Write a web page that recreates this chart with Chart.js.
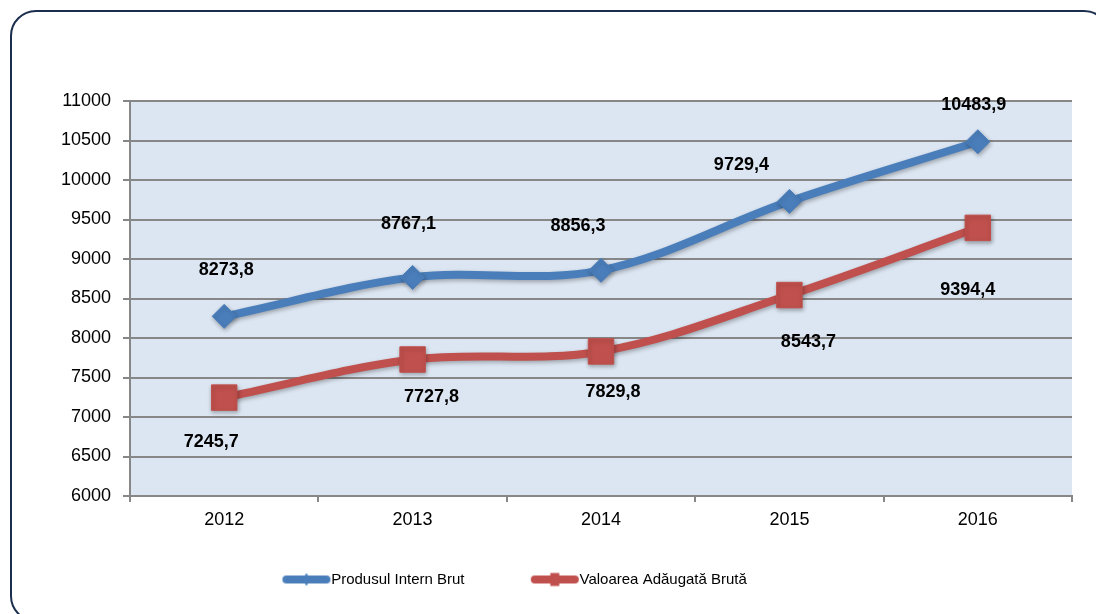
<!DOCTYPE html>
<html><head><meta charset="utf-8">
<script src="https://cdn.jsdelivr.net/npm/chart.js@4/dist/chart.umd.min.js"></script>
<style>
html,body{margin:0;padding:0;background:#fff;overflow:hidden}
#wrap{position:relative;width:1096px;height:614px;overflow:hidden}
#frame{position:absolute;left:10px;top:10px;width:1100px;height:612px;border:2px solid #1b2e4d;border-radius:26px;box-sizing:border-box;pointer-events:none}
canvas{position:absolute;left:0;top:0}
</style></head><body>
<div id="wrap"><div id="frame"></div><canvas id="c" width="1096" height="614"></canvas></div>
<script>
// ---- data ----
const years = ['2012', '2013', '2014', '2015', '2016'];
const pibValues = [8273.8, 8767.1, 8856.3, 9729.4, 10483.9];
const vabValues = [7245.7, 7727.8, 7829.8, 8543.7, 9394.4];
const seriesNames = ['Produsul Intern Brut', 'Valoarea Adăugată Brută'];
const yMin = 6000, yMax = 11000, yStep = 500;

// ---- styles ----
const FONT = "'Liberation Sans', Arial, sans-serif";
const BLUE = '#4a7ebb', RED = '#c0504d';
const GRID = '#878787';
const LEG_FONT = 15, LEG_H = LEG_FONT / 2;
const LEG_W = 87.5, LEG_PAD = 20;
// label offsets (px) relative to each marker, per series
const labelOffsets = [
  [[2,-46],[-4,-53],[-23,-44],[-48,-36],[-4,-37]],
  [[-13,44],[19,38],[12,41],[19,47],[-10,62]]
];

function legendImg(color, marker) {
  const c = document.createElement('canvas');
  c.width = LEG_W + 16; c.height = 20;
  const ctx = c.getContext('2d');
  const x0 = LEG_W + LEG_H - 41, x1 = x0 + 48, cy = 10;
  ctx.strokeStyle = color; ctx.lineWidth = 8; ctx.lineCap = 'round';
  ctx.beginPath(); ctx.moveTo(x0 + 4, cy); ctx.lineTo(x1 - 4, cy); ctx.stroke();
  const mx = (x0 + x1) / 2;
  ctx.fillStyle = color;
  ctx.beginPath();
  if (marker === 'diamond') {
    ctx.moveTo(mx - 4, cy); ctx.lineTo(mx, cy - 6.5); ctx.lineTo(mx + 4, cy); ctx.lineTo(mx, cy + 6.5);
    ctx.closePath(); ctx.fill();
  } else {
    ctx.fillRect(mx - 4.5, cy - 6.5, 9, 13);
  }
  return c;
}

const bgPlugin = {
  id: 'plotBg',
  beforeDraw(chart) {
    const {ctx, chartArea: a} = chart;
    ctx.save(); ctx.fillStyle = '#dce6f2';
    ctx.fillRect(a.left, a.top, a.right - a.left, a.bottom - a.top);
    ctx.restore();
  }
};
const shadowPlugin = {
  id: 'shadow',
  beforeDatasetDraw(chart) {
    const ctx = chart.ctx; ctx.save();
    ctx.shadowColor = 'rgba(0,0,0,0.3)'; ctx.shadowBlur = 4; ctx.shadowOffsetX = 1; ctx.shadowOffsetY = 2;
  },
  afterDatasetDraw(chart) { chart.ctx.restore(); }
};
const labelPlugin = {
  id: 'valueLabels',
  afterDatasetsDraw(chart) {
    const ctx = chart.ctx;
    ctx.save();
    ctx.font = 'bold 18px ' + FONT;
    ctx.fillStyle = '#000'; ctx.textAlign = 'center'; ctx.textBaseline = 'middle';
    chart.data.datasets.forEach((ds, di) => {
      const meta = chart.getDatasetMeta(di);
      meta.data.forEach((pt, i) => {
        const [dx, dy] = labelOffsets[di][i];
        ctx.fillText(ds.data[i].toFixed(1).replace('.', ','), pt.x + dx, pt.y + dy);
      });
    });
    ctx.restore();
  }
};

new Chart(document.getElementById('c'), {
  type: 'line',
  data: {
    labels: years,
    datasets: [
      { label: seriesNames[0], data: pibValues, borderColor: BLUE, backgroundColor: BLUE,
        borderWidth: 8, tension: 0.35, pointStyle: 'rectRot', pointRadius: 12, pointBorderWidth: 1,
        pointBackgroundColor: BLUE, pointBorderColor: BLUE, fill: false },
      { label: seriesNames[1], data: vabValues, borderColor: RED, backgroundColor: RED,
        borderWidth: 8, tension: 0.35, pointStyle: 'rect', pointRadius: 18, pointBorderWidth: 1,
        pointBackgroundColor: RED, pointBorderColor: RED, fill: false }
    ]
  },
  options: {
    responsive: false, animation: false, devicePixelRatio: 1,
    layout: { padding: { left: -89, right: 24, top: 101, bottom: 17 } },
    plugins: {
      tooltip: { enabled: false },
      legend: {
        position: 'bottom',
        labels: {
          usePointStyle: true, pointStyleWidth: LEG_W, padding: LEG_PAD,
          color: '#000', font: { family: FONT, size: LEG_FONT },
          generateLabels(chart) {
            return chart.data.datasets.map((ds, i) => ({
              text: ds.label, datasetIndex: i, hidden: false, lineWidth: 0,
              fillStyle: ds.borderColor, strokeStyle: ds.borderColor,
              pointStyle: legendImg(ds.borderColor, i === 0 ? 'diamond' : 'square')
            }));
          }
        }
      }
    },
    scales: {
      x: {
        offset: true,
        grid: { offset: true, drawOnChartArea: false, drawTicks: true, tickLength: 6, color: GRID, lineWidth: 2 },
        border: { color: GRID, width: 2 },
        ticks: { color: '#000', font: { family: FONT, size: 18 }, padding: 7, maxRotation: 0 },
        afterFit(s) { s.height = 56; }
      },
      y: {
        min: yMin, max: yMax,
        grid: { color: GRID, lineWidth: 2, tickLength: 7 },
        border: { color: GRID, width: 2 },
        ticks: { stepSize: yStep, color: '#000', font: { family: FONT, size: 18 }, padding: 12,
                 callback: v => String(v) },
        afterFit(s) { s.width = 219; }
      }
    }
  },
  plugins: [bgPlugin, shadowPlugin, labelPlugin]
});
</script>
</body></html>
